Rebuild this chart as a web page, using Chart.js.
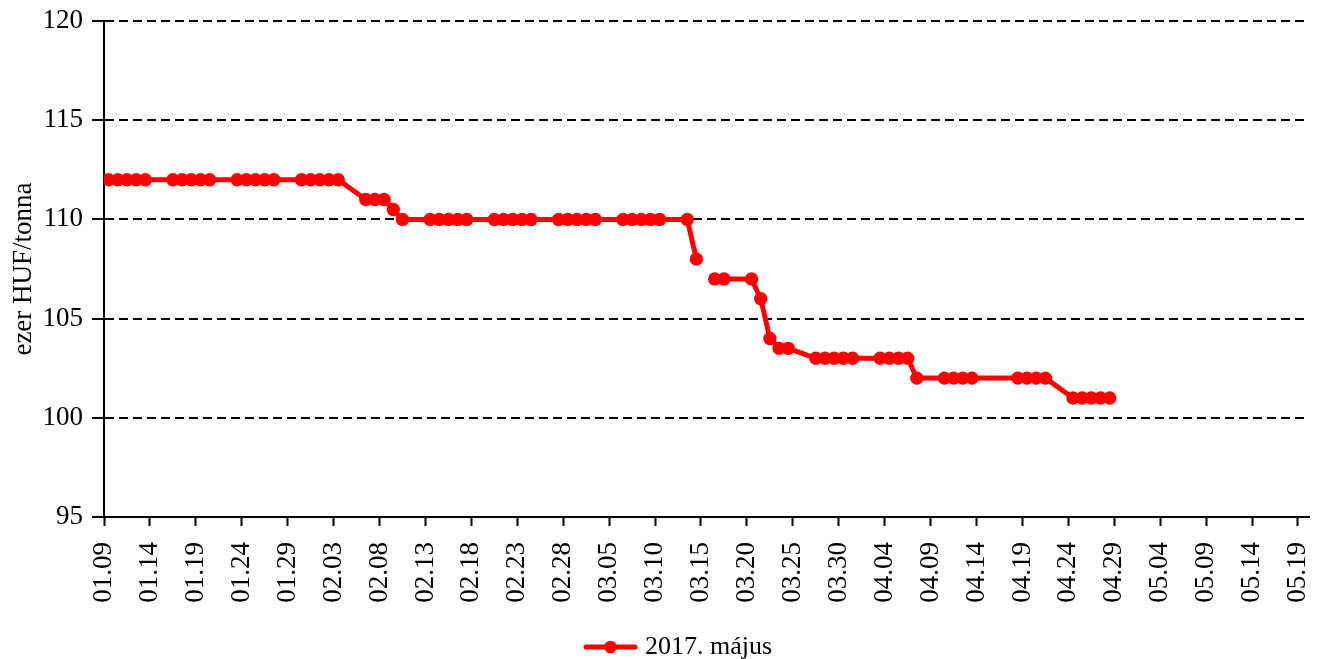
<!DOCTYPE html>
<html>
<head>
<meta charset="utf-8">
<script src="https://cdn.jsdelivr.net/npm/chart.js@4"></script>
<style>
  html, body { margin: 0; padding: 0; background: #fff; }
</style>
</head>
<body>
<canvas id="priceChart" width="1318" height="659"></canvas>
<script>
// trading days (MM.DD, 2017) and price in thousand HUF / tonne
const dates = [
    '01.09', '01.10', '01.11', '01.12', '01.13',
    '01.16', '01.17', '01.18', '01.19', '01.20',
    '01.23', '01.24', '01.25', '01.26', '01.27',
    '01.30', '01.31', '02.01', '02.02', '02.03',
    '02.06', '02.07', '02.08', '02.09', '02.10',
    '02.13', '02.14', '02.15', '02.16', '02.17',
    '02.20', '02.21', '02.22', '02.23', '02.24',
    '02.27', '02.28', '03.01', '03.02', '03.03',
    '03.06', '03.07', '03.08', '03.09', '03.10',
    '03.13', '03.14', '03.15', '03.16', '03.17',
    '03.20', '03.21', '03.22', '03.23', '03.24',
    '03.27', '03.28', '03.29', '03.30', '03.31',
    '04.03', '04.04', '04.05', '04.06', '04.07',
    '04.10', '04.11', '04.12', '04.13',
    '04.18', '04.19', '04.20', '04.21',
    '04.24', '04.25', '04.26', '04.27', '04.28'
];
const prices = [
    112, 112, 112, 112, 112,
    112, 112, 112, 112, 112,
    112, 112, 112, 112, 112,
    112, 112, 112, 112, 112,
    111, 111, 111, 110.5, 110,
    110, 110, 110, 110, 110,
    110, 110, 110, 110, 110,
    110, 110, 110, 110, 110,
    110, 110, 110, 110, 110,
    110, 108, null, 107, 107,
    107, 106, 104, 103.5, 103.5,
    103, 103, 103, 103, 103,
    103, 103, 103, 103, 102,
    102, 102, 102, 102,
    102, 102, 102, 102,
    101, 101, 101, 101, 101
];
const seriesLabel = '2017. május';
const yTitle = 'ezer HUF/tonna';
const yTicks = { min: 95, max: 120, step: 5 };
const xTickStepDays = 5;
const xLastDay = 131.2;   // axis ends just after 05.19

const serif = '"Liberation Serif", "Times New Roman", serif';
const red = '#ff0000';
const dayMs = 86400000;
const origin = Date.UTC(2017, 0, 9);

function dayIndex(md) {
    const [m, d] = md.split('.').map(Number);
    return Math.round((Date.UTC(2017, m - 1, d) - origin) / dayMs);
}

function dayLabel(value) {
    const dt = new Date(origin + Math.round(value) * dayMs);
    const mm = String(dt.getUTCMonth() + 1).padStart(2, '0');
    const dd = String(dt.getUTCDate()).padStart(2, '0');
    return mm + '.' + dd;
}

// points sit in the middle of their day slot, like a date axis in Excel
const points = dates.map((d, i) => ({ x: dayIndex(d) + 0.5, y: prices[i] }));

// legend marker: line with a dot in the middle
function legendMarker() {
    const c = document.createElement('canvas');
    c.width = 55;
    c.height = 14;
    const g = c.getContext('2d');
    g.strokeStyle = red;
    g.lineWidth = 5;
    g.lineCap = 'round';
    g.beginPath();
    g.moveTo(3, 7);
    g.lineTo(52, 7);
    g.stroke();
    g.fillStyle = red;
    g.beginPath();
    g.arc(27.5, 7, 6.3, 0, Math.PI * 2);
    g.fill();
    return c;
}
const marker = legendMarker();

// nudge the legend to where the original sits
const legendShift = {
    id: 'legendShift',
    afterLayout(chart) {
        const lg = chart.legend;
        lg.left += 52;
        lg.top += 11;
        lg.bottom += 11;
    }
};

window.config = {
    type: 'line',
    data: {
        datasets: [{
            label: seriesLabel,
            data: points,
            borderColor: red,
            backgroundColor: red,
            borderWidth: 5,
            pointRadius: 6.7,
            pointBackgroundColor: red,
            pointBorderWidth: 0,
            pointHoverRadius: 6.7,
            tension: 0,
            spanGaps: false,
        }]
    },
    options: {
        responsive: false,
        animation: false,
        layout: {
            padding: { left: 0, right: 9, top: 21, bottom: 0 }
        },
        plugins: {
            legend: {
                position: 'bottom',
                labels: {
                    usePointStyle: true,
                    pointStyleWidth: 43,
                    padding: 0,
                    color: '#000',
                    font: { family: serif, size: 26 },
                    generateLabels: (chart) => [{
                        text: seriesLabel,
                        pointStyle: marker,
                        fillStyle: red,
                        strokeStyle: red,
                        lineWidth: 0,
                        datasetIndex: 0,
                        hidden: false,
                    }]
                }
            },
            tooltip: { enabled: false },
        },
        scales: {
            x: {
                type: 'linear',
                min: 0,
                max: xLastDay,
                afterFit: (scale) => {
                    scale.height = 106;
                    scale.paddingLeft = 0;
                    scale.paddingRight = 0;
                },
                ticks: {
                    stepSize: xTickStepDays,
                    includeBounds: false,
                    autoSkip: false,
                    minRotation: 90,
                    maxRotation: 90,
                    padding: 16,
                    color: '#000',
                    font: { family: serif, size: 27 },
                    callback: (value) => dayLabel(value),
                },
                grid: {
                    drawOnChartArea: false,
                    tickLength: 9,
                    tickColor: '#000',
                    tickWidth: 2,
                },
                border: { color: '#000', width: 2 },
            },
            y: {
                min: yTicks.min,
                max: yTicks.max,
                afterFit: (scale) => {
                    scale.width = 104;
                    scale.paddingTop = 0;
                    scale.paddingBottom = 0;
                },
                ticks: {
                    stepSize: yTicks.step,
                    padding: 9,
                    color: '#000',
                    font: { family: serif, size: 27 },
                },
                title: {
                    display: true,
                    text: yTitle,
                    color: '#000',
                    padding: { top: 8, bottom: 0 },
                    font: { family: serif, size: 27 },
                },
                grid: {
                    color: '#000',
                    lineWidth: 2,
                    tickLength: 12,
                    tickColor: '#000',
                    tickWidth: 2,
                    tickBorderDash: [],
                },
                border: { color: '#000', width: 2, dash: [9, 5] },
            },
        },
    },
    plugins: [legendShift],
};

new Chart(document.getElementById('priceChart').getContext('2d'), window.config);
</script>
</body>
</html>
